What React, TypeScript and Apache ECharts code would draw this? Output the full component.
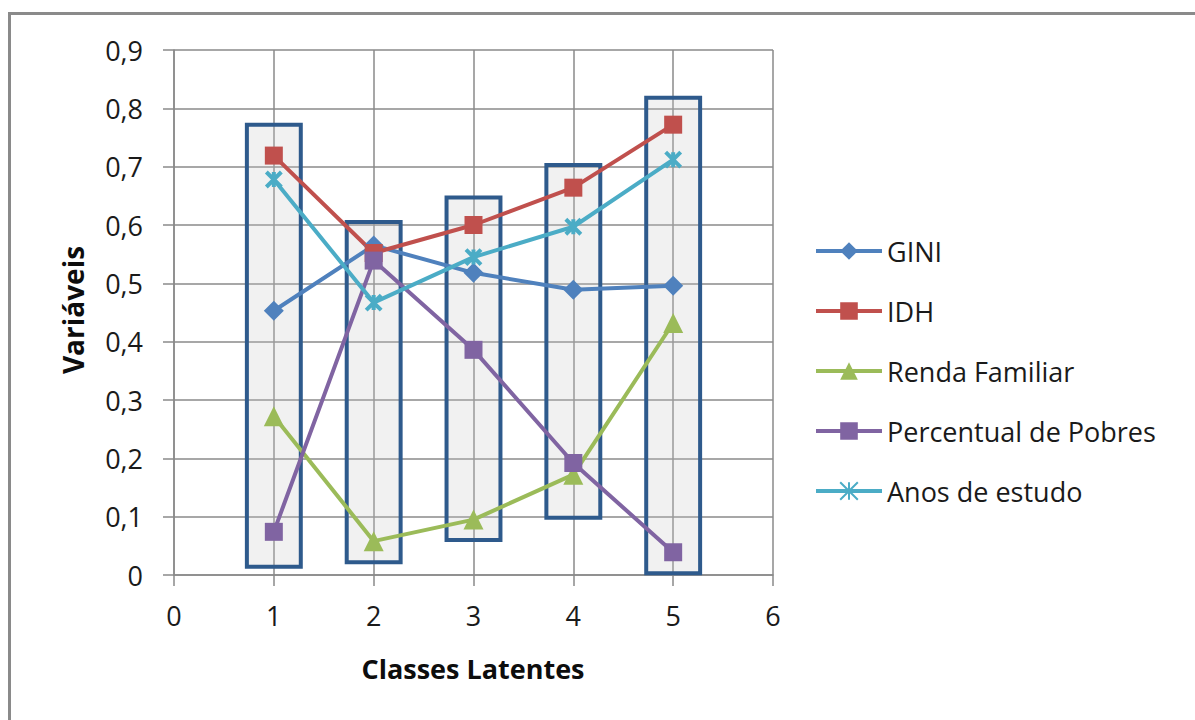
import React, { useEffect, useRef } from "react";
import * as echarts from "echarts";

const classes = [1, 2, 3, 4, 5];
const gini = [0.453, 0.565, 0.518, 0.489, 0.496];
const idh = [0.719, 0.552, 0.6, 0.664, 0.772];
const renda = [0.272, 0.058, 0.095, 0.172, 0.432];
const pobres = [0.074, 0.539, 0.386, 0.192, 0.039];
const anos = [0.678, 0.467, 0.545, 0.597, 0.712];

const boxLows = [0.014, 0.022, 0.06, 0.098, 0.003];
const boxHighs = [0.772, 0.605, 0.647, 0.703, 0.818];

const seriesNames = ["GINI", "IDH", "Renda Familiar", "Percentual de Pobres", "Anos de estudo"];
const xTitle = "Classes Latentes";
const yTitle = "Variáveis";

const FONT = "'Open Sans', 'Noto Sans', sans-serif";
const STAR = "path://M0,0L10,10M10,0L0,10M5,0L5,10";

export default function App() {
  const ref = useRef<HTMLDivElement>(null);
  useEffect(() => {
    if (!ref.current) return;
    const chart = echarts.init(ref.current, undefined, { renderer: "svg" });
    const mk = (name: string, data: number[], color: string, symbol: string, size: number, extra: any = {}) => ({
      name,
      type: "line",
      data: classes.map((c, i) => [c, data[i]]),
      symbol,
      symbolSize: size,
      showSymbol: true,
      lineStyle: { color, width: 4 },
      itemStyle: { color, ...(extra.itemStyle || {}) },
      z: 5,
    });
    const boxData = classes.map((c, i) => [c, boxLows[i], boxHighs[i]]);
    chart.setOption({
      animation: false,
      backgroundColor: "#ffffff",
      textStyle: { fontFamily: FONT },
      grid: { left: 174, right: 422, top: 50, bottom: 145, containLabel: false },
      xAxis: {
        type: "value",
        min: 0,
        max: 6,
        interval: 1,
        axisLine: { show: true, lineStyle: { color: "#8a8a8a", width: 1.5 } },
        axisTick: { show: true, length: 11, lineStyle: { color: "#8a8a8a", width: 1.5 } },
        axisLabel: { fontSize: 27, color: "#1a1a1a", margin: 27, fontFamily: FONT },
        splitLine: { show: true, lineStyle: { color: "#8a8a8a", width: 1.5 } },
      },
      yAxis: {
        type: "value",
        min: 0,
        max: 0.9,
        interval: 0.1,
        axisLine: { show: true, lineStyle: { color: "#8a8a8a", width: 1.5 } },
        axisTick: { show: true, length: 11, lineStyle: { color: "#8a8a8a", width: 1.5 } },
        axisLabel: {
          fontSize: 27,
          color: "#1a1a1a",
          margin: 31,
          fontFamily: FONT,
          formatter: (v: number) => (Math.round(v * 10) / 10).toString().replace(".", ","),
        },
        splitLine: { show: true, lineStyle: { color: "#8a8a8a", width: 1.5 } },
      },
      legend: {
        orient: "vertical",
        left: 809,
        top: 231,
        itemWidth: 66,
        itemHeight: 22,
        itemGap: 30,
        data: seriesNames,
        lineStyle: { width: 4 },
        textStyle: { fontSize: 27, color: "#1a1a1a", fontFamily: FONT, lineHeight: 30 },
      },
      graphic: [
        {
          type: "rect",
          shape: { x: 9.5, y: 13.5, width: 1200, height: 720 },
          style: { fill: "none", stroke: "#8a8a8a", lineWidth: 3 },
          silent: true,
        },
        {
          type: "text",
          x: 73,
          y: 310,
          rotation: Math.PI / 2,
          style: {
            text: yTitle,
            font: `bold 28px ${FONT}`,
            fill: "#0d0d0d",
            align: "center",
            verticalAlign: "middle",
          },
        },
        {
          type: "text",
          x: 473,
          y: 668,
          style: {
            text: xTitle,
            font: `bold 27px ${FONT}`,
            fill: "#0d0d0d",
            align: "center",
            verticalAlign: "middle",
          },
        },
      ],
      series: [
        {
          type: "custom",
          name: "boxes",
          data: boxData,
          z: 1,
          renderItem: (params: any, api: any) => {
            const x = api.value(0);
            const lo = api.value(1);
            const hi = api.value(2);
            const hw = 0.27;
            const p1 = api.coord([x - hw, hi]);
            const p2 = api.coord([x + hw, lo]);
            return {
              type: "rect",
              shape: { x: p1[0], y: p1[1], width: p2[0] - p1[0], height: p2[1] - p1[1] },
              style: { fill: "rgba(200,200,200,0.25)", stroke: "#2E5A8C", lineWidth: 4 },
            };
          },
        },
        mk(seriesNames[0], gini, "#4F81BD", "diamond", 20),
        mk(seriesNames[1], idh, "#C0504D", "rect", 18),
        mk(seriesNames[2], renda, "#9BBB59", "triangle", 20),
        mk(seriesNames[3], pobres, "#8064A2", "rect", 18),
        mk(seriesNames[4], anos, "#4BACC6", STAR, 15, {
          itemStyle: { borderColor: "#4BACC6", borderWidth: 4 },
        }),
      ],
    });
    return () => chart.dispose();
  }, []);
  return (
    <div
      ref={ref}
      style={{ position: "fixed", left: 0, top: 0, width: 1195, height: 720, background: "#fff" }}
    />
  );
}
